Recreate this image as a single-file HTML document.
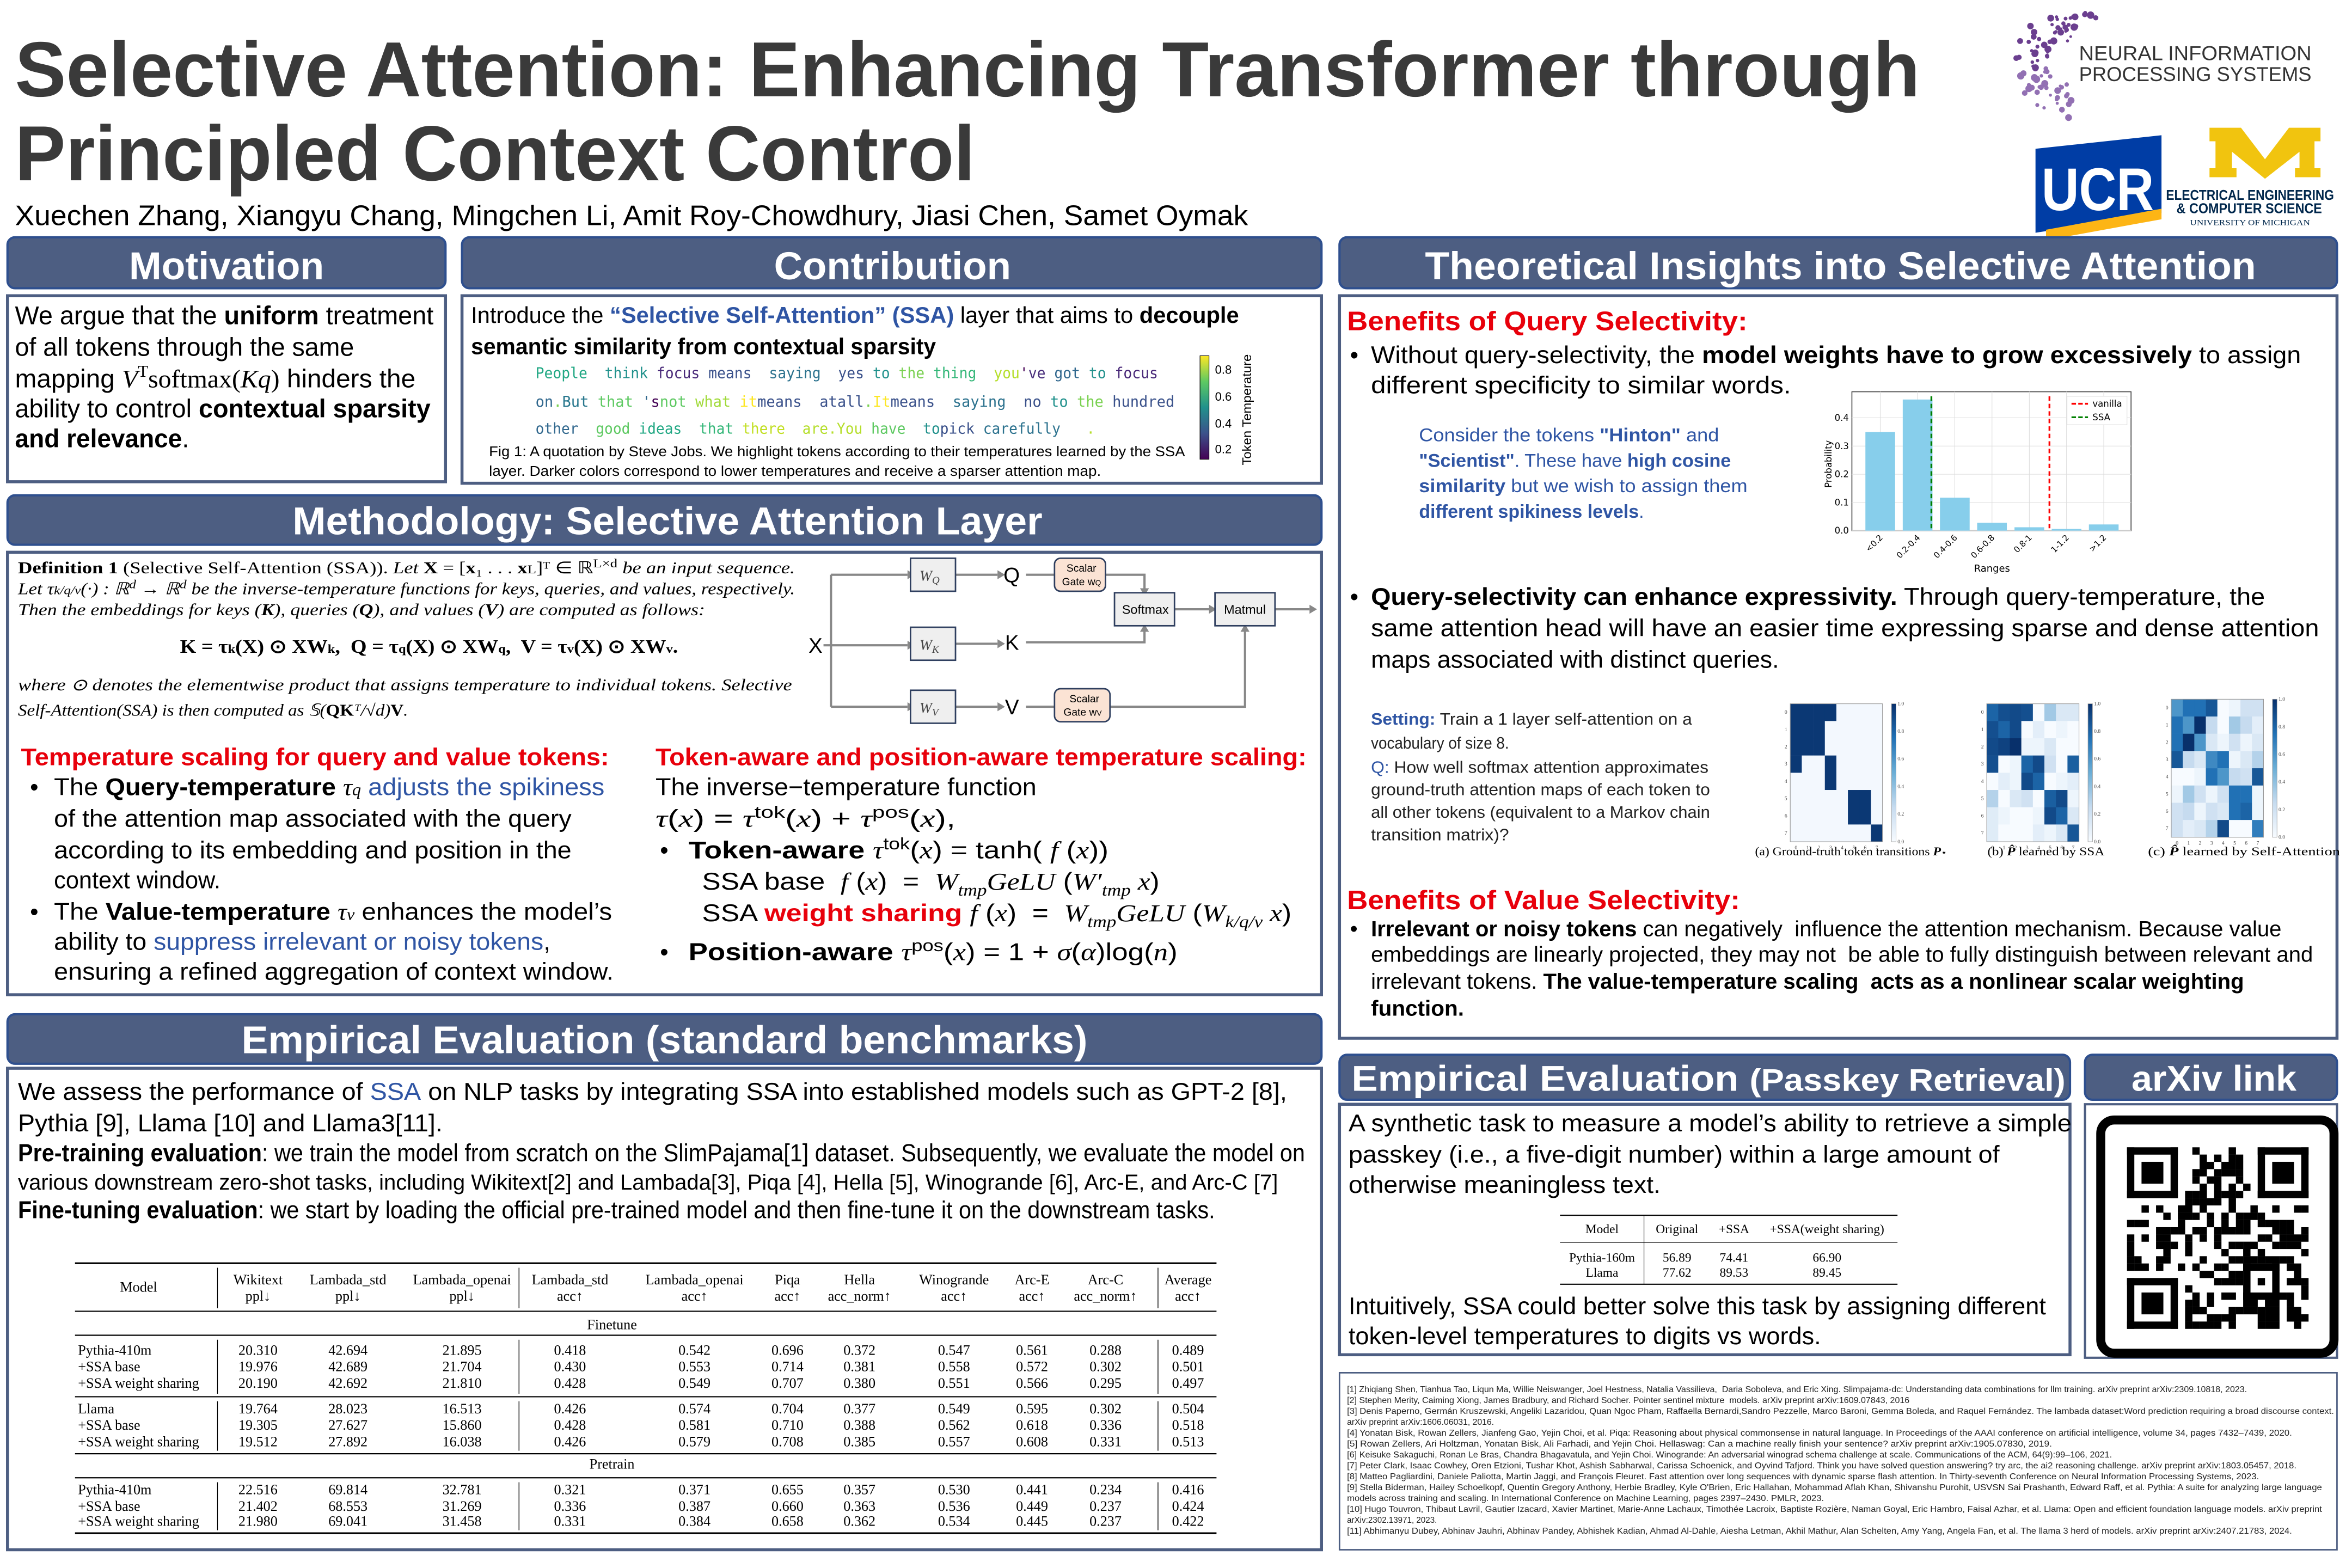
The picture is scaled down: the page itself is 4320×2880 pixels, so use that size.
<!DOCTYPE html>
<html><head><meta charset="utf-8"><style>
html,body{margin:0;padding:0;background:#fff;width:4320px;height:2880px;overflow:hidden}
svg{display:block}
text{white-space:pre}
.s{font-family:"Liberation Sans",sans-serif}
.r{font-family:"Liberation Serif",serif}
.m{font-family:"DejaVu Sans Mono","Liberation Mono",monospace}
.hd{font-family:"Liberation Sans",sans-serif;font-weight:bold;fill:#fff}
</style></head><body>
<svg id="p" width="4320" height="2880" viewBox="0 0 1568 1045" xmlns="http://www.w3.org/2000/svg">
<rect width="1568" height="1045" fill="#fff"/>
<!-- Title -->
<text class="s" x="10" y="64" font-size="52" font-weight="bold" fill="#3a3a3a" textLength="1270" lengthAdjust="spacingAndGlyphs">Selective Attention: Enhancing Transformer through</text>
<text class="s" x="10" y="120" font-size="52" font-weight="bold" fill="#3a3a3a" textLength="640" lengthAdjust="spacingAndGlyphs">Principled Context Control</text>
<text class="s" x="10" y="150" font-size="19" fill="#000" textLength="822" lengthAdjust="spacingAndGlyphs">Xuechen Zhang, Xiangyu Chang, Mingchen Li, Amit Roy-Chowdhury, Jiasi Chen, Samet Oymak</text>
<!-- logos -->
<g id="neurips" fill="#6b4a94"></g>
<text class="s" x="1386" y="40" font-size="13.5" fill="#333" textLength="155" lengthAdjust="spacingAndGlyphs">NEURAL INFORMATION</text>
<text class="s" x="1386" y="54" font-size="13.5" fill="#333" textLength="155" lengthAdjust="spacingAndGlyphs">PROCESSING SYSTEMS</text>
<polygon points="1357,99 1441,90 1441,142 1357,155" fill="#003da5"/>
<polygon points="1364,153 1441,139 1441,146 1364,160" fill="#fdb515"/>
<text class="s" x="1361" y="140" font-size="40" font-weight="bold" fill="#fff" textLength="75" lengthAdjust="spacingAndGlyphs">UCR</text>
<polygon points="1473,85 1494,85 1510,106 1526,85 1547,85 1547,94 1543,94 1543,112 1547,112 1547,118 1530,118 1530,112 1533,112 1533,101 1510,119 1488,101 1488,112 1491,112 1491,118 1473,118 1473,112 1477,112 1477,94 1473,94" fill="#f1c40f"/>
<text class="s" x="1444" y="133" font-size="9.5" font-weight="bold" fill="#00274c" textLength="112" lengthAdjust="spacingAndGlyphs">ELECTRICAL ENGINEERING</text>
<text class="s" x="1451" y="142" font-size="9.5" font-weight="bold" fill="#00274c" textLength="97" lengthAdjust="spacingAndGlyphs">&amp; COMPUTER SCIENCE</text>
<text class="r" x="1460" y="150" font-size="5.5" fill="#00274c" textLength="80" lengthAdjust="spacingAndGlyphs">UNIVERSITY OF MICHIGAN</text>

<!-- Headers -->
<g fill="#4d5e82" stroke="#2e4f8e" stroke-width="1.5">
<rect x="5" y="158" width="292" height="34" rx="5"/>
<rect x="308" y="158" width="573" height="34" rx="5"/>
<rect x="893" y="158" width="665" height="34" rx="5"/>
<rect x="5" y="330" width="876" height="33" rx="5"/>
<rect x="5" y="676" width="876" height="33" rx="5"/>
<rect x="893" y="703" width="487" height="30" rx="5"/>
<rect x="1390" y="703" width="168" height="30" rx="5"/>
</g>
<text class="hd" x="86" y="186" font-size="26" textLength="130" lengthAdjust="spacingAndGlyphs">Motivation</text>
<text class="hd" x="516" y="186" font-size="26" textLength="158" lengthAdjust="spacingAndGlyphs">Contribution</text>
<text class="hd" x="950" y="186" font-size="26" textLength="554" lengthAdjust="spacingAndGlyphs">Theoretical Insights into Selective Attention</text>
<text class="hd" x="195" y="356" font-size="26" textLength="500" lengthAdjust="spacingAndGlyphs">Methodology: Selective Attention Layer</text>
<text class="hd" x="161" y="702" font-size="26" textLength="564" lengthAdjust="spacingAndGlyphs">Empirical Evaluation (standard benchmarks)</text>
<text class="hd" x="901" y="727" font-size="24" textLength="476" lengthAdjust="spacingAndGlyphs">Empirical Evaluation <tspan font-size="21">(Passkey Retrieval)</tspan></text>
<text class="hd" x="1421" y="727" font-size="24" textLength="110" lengthAdjust="spacingAndGlyphs">arXiv link</text>

<!-- Body boxes -->
<g fill="#fff" stroke="#4d5e82" stroke-width="2">
<rect x="5" y="197" width="292" height="124"/>
<rect x="308" y="197" width="573" height="125"/>
<rect x="893" y="197" width="665" height="495"/>
<rect x="5" y="368" width="876" height="295"/>
<rect x="5" y="712" width="876" height="321"/>
<rect x="893" y="736" width="487" height="167"/>
<rect x="1390" y="736" width="168" height="169" stroke-width="1.5"/>
<rect x="893" y="915" width="665" height="118" stroke-width="1"/>
</g>

<!-- Motivation -->
<g class="s" font-size="17" fill="#000">
<text x="10" y="216" textLength="279" lengthAdjust="spacingAndGlyphs">We argue that the <tspan font-weight="bold">uniform</tspan> treatment</text>
<text x="10" y="237" textLength="226" lengthAdjust="spacingAndGlyphs">of all tokens through the same</text>
<text x="10" y="258" textLength="267" lengthAdjust="spacingAndGlyphs">mapping <tspan class="r" font-style="italic">V</tspan><tspan class="r" font-size="11" dy="-7">T</tspan><tspan class="r" dy="7">softmax(</tspan><tspan class="r" font-style="italic">Kq</tspan><tspan class="r">)</tspan> hinders the</text>
<text x="10" y="278" textLength="277" lengthAdjust="spacingAndGlyphs">ability to control <tspan font-weight="bold">contextual sparsity</tspan></text>
<text x="10" y="298" textLength="116" lengthAdjust="spacingAndGlyphs" font-weight="bold">and relevance<tspan font-weight="normal">.</tspan></text>
</g>

<!-- Contribution -->
<g class="s" font-size="15" fill="#000">
<text x="314" y="215" textLength="512" lengthAdjust="spacingAndGlyphs">Introduce the <tspan font-weight="bold" fill="#2f55a4">“Selective Self-Attention” (SSA)</tspan> layer that aims to <tspan font-weight="bold">decouple</tspan></text>
<text x="314" y="236" textLength="310" lengthAdjust="spacingAndGlyphs" font-weight="bold">semantic similarity from contextual sparsity</text>
</g>
<g class="m" font-size="10">
<text xml:space="preserve" x="357" y="252" textLength="415" lengthAdjust="spacingAndGlyphs"><tspan fill="#22a884">People</tspan>  <tspan fill="#21918c">think</tspan> <tspan fill="#482878">focus</tspan> <tspan fill="#3b528b">means</tspan>  <tspan fill="#2c728e">saying</tspan>  <tspan fill="#3b528b">yes</tspan> <tspan fill="#21918c">to</tspan> <tspan fill="#7ad151">the</tspan> <tspan fill="#35b779">thing</tspan>  <tspan fill="#b5de2b">you</tspan><tspan fill="#440154">'</tspan><tspan fill="#472d7b">ve</tspan> <tspan fill="#31688e">got</tspan> <tspan fill="#21918c">to</tspan> <tspan fill="#482878">focus</tspan></text>
<text xml:space="preserve" x="357" y="271" textLength="426" lengthAdjust="spacingAndGlyphs"><tspan fill="#31688e">on</tspan><tspan fill="#7ad151">.</tspan><tspan fill="#2a788e">But</tspan> <tspan fill="#5ec962">that</tspan> <tspan fill="#31688e">'</tspan><tspan fill="#440154">s</tspan><tspan fill="#5ec962">not</tspan> <tspan fill="#a0da39">what</tspan> <tspan fill="#fde725">it</tspan><tspan fill="#3b528b">means</tspan>  <tspan fill="#3b528b">at</tspan><tspan fill="#3b528b">all</tspan><tspan fill="#7ad151">.</tspan><tspan fill="#fde725">It</tspan><tspan fill="#3b528b">means</tspan>  <tspan fill="#2c728e">saying</tspan>  <tspan fill="#3b528b">no</tspan> <tspan fill="#21918c">to</tspan> <tspan fill="#7ad151">the</tspan> <tspan fill="#3b528b">hundred</tspan></text>
<text xml:space="preserve" x="357" y="289" textLength="373" lengthAdjust="spacingAndGlyphs"><tspan fill="#31688e">other</tspan>  <tspan fill="#5ec962">good</tspan> <tspan fill="#22a884">ideas</tspan>  <tspan fill="#35b779">that</tspan> <tspan fill="#c2df23">there</tspan>  <tspan fill="#b5de2b">are</tspan><tspan fill="#b5de2b">.</tspan><tspan fill="#b5de2b">You</tspan> <tspan fill="#5ec962">have</tspan>  <tspan fill="#21918c">to</tspan><tspan fill="#3b528b">pick</tspan> <tspan fill="#2c728e">carefully</tspan>   <tspan fill="#b5de2b">.</tspan></text>
</g>
<g class="s" font-size="9.5" fill="#000">
<text x="326" y="304" textLength="464" lengthAdjust="spacingAndGlyphs">Fig 1: A quotation by Steve Jobs. We highlight tokens according to their temperatures learned by the SSA</text>
<text x="326" y="317" textLength="408" lengthAdjust="spacingAndGlyphs">layer. Darker colors correspond to lower temperatures and receive a sparser attention map.</text>
</g>
<defs><linearGradient id="vir" x1="0" y1="1" x2="0" y2="0">
<stop offset="0" stop-color="#440154"/><stop offset="0.25" stop-color="#3b528b"/><stop offset="0.5" stop-color="#21918c"/><stop offset="0.75" stop-color="#5ec962"/><stop offset="1" stop-color="#fde725"/></linearGradient></defs>
<rect x="800" y="237" width="6" height="69" fill="url(#vir)" stroke="#000" stroke-width="0.4"/>
<g class="s" font-size="8" fill="#000">
<text x="810" y="249">0.8</text><text x="810" y="267">0.6</text><text x="810" y="285">0.4</text><text x="810" y="302">0.2</text>
<text transform="translate(834,310) rotate(-90)" font-size="8.5" textLength="74" lengthAdjust="spacingAndGlyphs">Token Temperature</text>
</g>

<!-- Methodology -->
<g class="r" font-size="11" fill="#000">
<text x="12" y="382" textLength="518" lengthAdjust="spacingAndGlyphs"><tspan font-weight="bold">Definition 1</tspan> (Selective Self-Attention (SSA)). <tspan font-style="italic">Let </tspan><tspan font-weight="bold">X</tspan> = [<tspan font-weight="bold">x</tspan>₁ . . . <tspan font-weight="bold">x</tspan><tspan font-size="8">L</tspan>]ᵀ ∈ ℝ<tspan font-size="8" dy="-4">L×d</tspan><tspan dy="4" font-style="italic"> be an input sequence.</tspan></text>
<text x="12" y="396" textLength="518" lengthAdjust="spacingAndGlyphs" font-style="italic">Let τ<tspan font-size="8">k/q/v</tspan>(·) : ℝ<tspan font-size="8" dy="-4">d</tspan><tspan dy="4"> → ℝ</tspan><tspan font-size="8" dy="-4">d</tspan><tspan dy="4"> be the inverse-temperature functions for keys, queries, and values, respectively.</tspan></text>
<text x="12" y="410" textLength="458" lengthAdjust="spacingAndGlyphs" font-style="italic">Then the embeddings for keys (<tspan font-weight="bold">K</tspan>), queries (<tspan font-weight="bold">Q</tspan>), and values (<tspan font-weight="bold">V</tspan>) are computed as follows:</text>
<text x="120" y="435" font-size="12.5" font-weight="bold" textLength="332" lengthAdjust="spacingAndGlyphs">K = τ<tspan font-size="8">k</tspan>(X) ⊙ XW<tspan font-size="8">k</tspan>,  Q = τ<tspan font-size="8">q</tspan>(X) ⊙ XW<tspan font-size="8">q</tspan>,  V = τ<tspan font-size="8">v</tspan>(X) ⊙ XW<tspan font-size="8">v</tspan>.</text>
<text x="12" y="460" textLength="516" lengthAdjust="spacingAndGlyphs" font-style="italic">where ⊙ denotes the elementwise product that assigns temperature to individual tokens. Selective</text>
<text x="12" y="477" textLength="260" lengthAdjust="spacingAndGlyphs" font-style="italic">Self-Attention(SSA) is then computed as 𝕊(<tspan font-weight="bold" font-style="normal">QK</tspan>ᵀ/√d)<tspan font-weight="bold" font-style="normal">V</tspan>.</text>
</g>
<!-- diagram -->
<g stroke="#888" stroke-width="1.5" fill="none">
<path d="M549,430 H605 M554,383 V471 M554,383 H605 M554,471 H605"/>
<path d="M637,383 H665 M637,429 H665 M637,471 H665"/>
<path d="M684,383 H703 M737,383 H763 V395"/>
<path d="M684,428 H763 V418"/>
<path d="M684,471 H703 M740,471 H830 V418"/>
<path d="M783,406 H808 M850,406 H873"/>
</g>
<g fill="#888">
<polygon points="605,380 610,383 605,386"/><polygon points="605,427 610,430 605,433"/><polygon points="605,468 610,471 605,474"/>
<polygon points="665,380 670,383 665,386"/><polygon points="665,426 670,429 665,432"/><polygon points="665,468 670,471 665,474"/>
<polygon points="760,392 763,397 766,392"/><polygon points="760,421 763,416 766,421"/><polygon points="827,421 830,416 833,421"/>
<polygon points="806,403 811,406 806,409"/><polygon points="873,403 878,406 873,409"/>
</g>
<g stroke="#2f3f5f" stroke-width="1" fill="#efefef">
<rect x="607" y="372" width="30" height="22"/><rect x="607" y="418" width="30" height="22"/><rect x="607" y="460" width="30" height="22"/>
<rect x="743" y="395" width="40" height="22"/><rect x="810" y="395" width="40" height="22"/>
</g>
<g stroke="#2f3f5f" stroke-width="1" fill="#fbe3d4">
<rect x="703" y="372" width="34" height="22" rx="4"/><rect x="703" y="459" width="37" height="22" rx="4"/>
</g>
<g class="r" font-style="italic" font-size="10" fill="#444">
<text x="613" y="387">W<tspan font-size="7" dy="2">Q</tspan></text>
<text x="613" y="433">W<tspan font-size="7" dy="2">K</tspan></text>
<text x="613" y="475">W<tspan font-size="7" dy="2">V</tspan></text>
</g>
<g class="s" fill="#000">
<text x="539" y="435" font-size="14">X</text>
<text x="669" y="388" font-size="14">Q</text><text x="670" y="433" font-size="14">K</text><text x="670" y="476" font-size="14">V</text>
<text x="711" y="381" font-size="7">Scalar</text><text x="708" y="390" font-size="7">Gate w<tspan font-size="5">Q</tspan></text>
<text x="713" y="468" font-size="7">Scalar</text><text x="709" y="477" font-size="7">Gate w<tspan font-size="5">V</tspan></text>
<text x="748" y="409" font-size="8.5">Softmax</text><text x="816" y="409" font-size="8.5">Matmul</text>
</g>
<!-- method bullets -->
<g class="s" font-size="16" fill="#000">
<text x="14" y="510" font-weight="bold" fill="#e8000b" textLength="392" lengthAdjust="spacingAndGlyphs">Temperature scaling for query and value tokens:</text>
<text x="20" y="530">•</text><text x="36" y="530" textLength="367" lengthAdjust="spacingAndGlyphs">The <tspan font-weight="bold">Query-temperature</tspan> <tspan class="r" font-style="italic">τ<tspan font-size="11">q</tspan></tspan> <tspan fill="#2f55a4">adjusts the spikiness</tspan></text>
<text x="36" y="551" textLength="345" lengthAdjust="spacingAndGlyphs">of the attention map associated with the query</text>
<text x="36" y="572" textLength="345" lengthAdjust="spacingAndGlyphs">according to its embedding and position in the</text>
<text x="36" y="592" textLength="111" lengthAdjust="spacingAndGlyphs">context window.</text>
<text x="20" y="613">•</text><text x="36" y="613" textLength="372" lengthAdjust="spacingAndGlyphs">The <tspan font-weight="bold">Value-temperature</tspan> <tspan class="r" font-style="italic">τ<tspan font-size="11">v</tspan></tspan> enhances the model’s</text>
<text x="36" y="633" textLength="331" lengthAdjust="spacingAndGlyphs">ability to <tspan fill="#2f55a4">suppress irrelevant or noisy tokens</tspan>,</text>
<text x="36" y="653" textLength="373" lengthAdjust="spacingAndGlyphs">ensuring a refined aggregation of context window.</text>

<text x="437" y="510" font-weight="bold" fill="#e8000b" textLength="434" lengthAdjust="spacingAndGlyphs">Token-aware and position-aware temperature scaling:</text>
<text x="437" y="530" textLength="254" lengthAdjust="spacingAndGlyphs">The inverse−temperature function</text>
<text x="437" y="551" textLength="200" lengthAdjust="spacingAndGlyphs"><tspan class="r" font-style="italic">τ</tspan>(<tspan class="r" font-style="italic">x</tspan>) = <tspan class="r" font-style="italic">τ</tspan><tspan font-size="11" dy="-6">tok</tspan><tspan dy="6">(</tspan><tspan class="r" font-style="italic">x</tspan>) + <tspan class="r" font-style="italic">τ</tspan><tspan font-size="11" dy="-6">pos</tspan><tspan dy="6">(</tspan><tspan class="r" font-style="italic">x</tspan>),</text>
<text x="440" y="572">•</text><text x="459" y="572" textLength="280" lengthAdjust="spacingAndGlyphs"><tspan font-weight="bold">Token-aware</tspan> <tspan class="r" font-style="italic">τ</tspan><tspan font-size="11" dy="-6">tok</tspan><tspan dy="6">(</tspan><tspan class="r" font-style="italic">x</tspan>) = tanh( <tspan class="r" font-style="italic">f</tspan> (<tspan class="r" font-style="italic">x</tspan>))</text>
<text x="468" y="593" textLength="305" lengthAdjust="spacingAndGlyphs">SSA base  <tspan class="r" font-style="italic">f</tspan> (<tspan class="r" font-style="italic">x</tspan>)  =  <tspan class="r" font-style="italic">W</tspan><tspan font-size="11" dy="4" class="r" font-style="italic">tmp</tspan><tspan dy="-4" class="r" font-style="italic">GeLU</tspan> (<tspan class="r" font-style="italic">W′</tspan><tspan font-size="11" dy="4" class="r" font-style="italic">tmp</tspan><tspan dy="-4" class="r" font-style="italic"> x</tspan>)</text>
<text x="468" y="614" textLength="393" lengthAdjust="spacingAndGlyphs">SSA <tspan font-weight="bold" fill="#e8000b">weight sharing</tspan> <tspan class="r" font-style="italic">f</tspan> (<tspan class="r" font-style="italic">x</tspan>)  =  <tspan class="r" font-style="italic">W</tspan><tspan font-size="11" dy="4" class="r" font-style="italic">tmp</tspan><tspan dy="-4" class="r" font-style="italic">GeLU</tspan> (<tspan class="r" font-style="italic">W</tspan><tspan font-size="11" dy="4" class="r" font-style="italic">k/q/v</tspan><tspan dy="-4" class="r" font-style="italic"> x</tspan>)</text>
<text x="440" y="640">•</text><text x="459" y="640" textLength="326" lengthAdjust="spacingAndGlyphs"><tspan font-weight="bold">Position-aware</tspan> <tspan class="r" font-style="italic">τ</tspan><tspan font-size="11" dy="-6">pos</tspan><tspan dy="6">(</tspan><tspan class="r" font-style="italic">x</tspan>) = 1 + <tspan class="r" font-style="italic">σ</tspan>(<tspan class="r" font-style="italic">α</tspan>)log(<tspan class="r" font-style="italic">n</tspan>)</text>
</g>

<!-- Theory -->
<g class="s" fill="#000">
<text x="898" y="220" font-size="18" font-weight="bold" fill="#e8000b" textLength="267" lengthAdjust="spacingAndGlyphs">Benefits of Query Selectivity:</text>
<text x="900" y="242" font-size="16">•</text>
<text x="914" y="242" font-size="16" textLength="620" lengthAdjust="spacingAndGlyphs">Without query-selectivity, the <tspan font-weight="bold">model weights have to grow excessively</tspan> to assign</text>
<text x="914" y="262" font-size="16" textLength="280" lengthAdjust="spacingAndGlyphs">different specificity to similar words.</text>
<g font-size="12.5" fill="#2f55a4">
<text x="946" y="294" textLength="200" lengthAdjust="spacingAndGlyphs">Consider the tokens <tspan font-weight="bold">"Hinton"</tspan> and</text>
<text x="946" y="311" textLength="208" lengthAdjust="spacingAndGlyphs"><tspan font-weight="bold">"Scientist"</tspan>. These have <tspan font-weight="bold">high cosine</tspan></text>
<text x="946" y="328" textLength="219" lengthAdjust="spacingAndGlyphs"><tspan font-weight="bold">similarity</tspan> but we wish to assign them</text>
<text x="946" y="345" textLength="150" lengthAdjust="spacingAndGlyphs" font-weight="bold">different spikiness levels<tspan font-weight="normal">.</tspan></text>
</g>
<text x="900" y="403" font-size="16">•</text>
<text x="914" y="403" font-size="16" textLength="596" lengthAdjust="spacingAndGlyphs"><tspan font-weight="bold">Query-selectivity can enhance expressivity.</tspan> Through query-temperature, the</text>
<text x="914" y="424" font-size="16" textLength="632" lengthAdjust="spacingAndGlyphs">same attention head will have an easier time expressing sparse and dense attention</text>
<text x="914" y="445" font-size="16" textLength="272" lengthAdjust="spacingAndGlyphs">maps associated with distinct queries.</text>
<g font-size="11" fill="#222">
<text x="914" y="483" textLength="214" lengthAdjust="spacingAndGlyphs"><tspan font-weight="bold" fill="#2f55a4">Setting:</tspan> Train a 1 layer self-attention on a</text>
<text x="914" y="499" textLength="92" lengthAdjust="spacingAndGlyphs">vocabulary of size 8.</text>
<text x="914" y="515" textLength="225" lengthAdjust="spacingAndGlyphs"><tspan fill="#2f55a4">Q:</tspan> How well softmax attention approximates</text>
<text x="914" y="530" textLength="226" lengthAdjust="spacingAndGlyphs">ground-truth attention maps of each token to</text>
<text x="914" y="545" textLength="226" lengthAdjust="spacingAndGlyphs">all other tokens (equivalent to a Markov chain</text>
<text x="914" y="560" textLength="92" lengthAdjust="spacingAndGlyphs">transition matrix)?</text>
</g>
<text x="898" y="606" font-size="18" font-weight="bold" fill="#e8000b" textLength="262" lengthAdjust="spacingAndGlyphs">Benefits of Value Selectivity:</text>
<g font-size="14.5">
<text x="900" y="624">•</text>
<text x="914" y="624" textLength="607" lengthAdjust="spacingAndGlyphs"><tspan font-weight="bold">Irrelevant or noisy tokens</tspan> can negatively  influence the attention mechanism. Because value</text>
<text x="914" y="641" textLength="628" lengthAdjust="spacingAndGlyphs">embeddings are linearly projected, they may not  be able to fully distinguish between relevant and</text>
<text x="914" y="659" textLength="582" lengthAdjust="spacingAndGlyphs">irrelevant tokens. <tspan font-weight="bold">The value-temperature scaling  acts as a nonlinear scalar weighting</tspan></text>
<text x="914" y="677" textLength="62" lengthAdjust="spacingAndGlyphs" font-weight="bold">function.</text>
</g>
</g>
<!-- bar chart -->
<g id="bars"></g>
<!-- heatmaps -->
<g id="heat"></g>
<g class="r" font-size="8" fill="#000">
<text x="1170" y="570" textLength="128" lengthAdjust="spacingAndGlyphs">(a) Ground-truth token transitions <tspan font-weight="bold" font-style="italic">P</tspan><tspan font-size="6">⋆</tspan></text>
<text x="1325" y="570" textLength="78" lengthAdjust="spacingAndGlyphs">(b) <tspan font-weight="bold" font-style="italic">P̂</tspan> learned by SSA</text>
<text x="1432" y="570" textLength="128" lengthAdjust="spacingAndGlyphs">(c) <tspan font-weight="bold" font-style="italic">P̂</tspan> learned by Self-Attention</text>
</g>

<!-- Empirical std -->
<g class="s" fill="#000">
<text x="12" y="733" font-size="16" textLength="846" lengthAdjust="spacingAndGlyphs">We assess the performance of <tspan fill="#2f55a4">SSA</tspan> on NLP tasks by integrating SSA into established models such as GPT-2 [8],</text>
<text x="12" y="754" font-size="16" textLength="283" lengthAdjust="spacingAndGlyphs">Pythia [9], Llama [10] and Llama3[11].</text>
<text x="12" y="774" font-size="16.5" textLength="858" lengthAdjust="spacingAndGlyphs"><tspan font-weight="bold">Pre-training evaluation</tspan>: we train the model from scratch on the SlimPajama[1] dataset. Subsequently, we evaluate the model on</text>
<text x="12" y="793" font-size="14.5" textLength="840" lengthAdjust="spacingAndGlyphs">various downstream zero-shot tasks, including Wikitext[2] and Lambada[3], Piqa [4], Hella [5], Winogrande [6], Arc-E, and Arc-C [7]</text>
<text x="12" y="812" font-size="16" textLength="798" lengthAdjust="spacingAndGlyphs"><tspan font-weight="bold">Fine-tuning evaluation</tspan>: we start by loading the official pre-trained model and then fine-tune it on the downstream tasks.</text>
</g>
<g id="tbl" class="r" font-size="9.5" fill="#000"></g>

<!-- Passkey -->
<g class="s" font-size="16" fill="#000">
<text x="899" y="754" textLength="482" lengthAdjust="spacingAndGlyphs">A synthetic task to measure a model’s ability to retrieve a simple</text>
<text x="899" y="775" textLength="434" lengthAdjust="spacingAndGlyphs">passkey (i.e., a five-digit number) within a large amount of</text>
<text x="899" y="795" textLength="208" lengthAdjust="spacingAndGlyphs">otherwise meaningless text.</text>
<text x="899" y="876" textLength="465" lengthAdjust="spacingAndGlyphs">Intuitively, SSA could better solve this task by assigning different</text>
<text x="899" y="896" textLength="315" lengthAdjust="spacingAndGlyphs">token-level temperatures to digits vs words.</text>
</g>
<g stroke="#000"><line x1="1040" y1="810" x2="1265" y2="810" stroke-width="0.8"/><line x1="1040" y1="828" x2="1265" y2="828" stroke-width="0.5"/><line x1="1040" y1="856" x2="1265" y2="856" stroke-width="0.8"/><line x1="1096" y1="810" x2="1096" y2="856" stroke-width="0.4"/></g>
<g class="r" font-size="8.5" fill="#000" text-anchor="middle">
<text x="1068" y="822">Model</text><text x="1118" y="822">Original</text><text x="1156" y="822">+SSA</text><text x="1218" y="822">+SSA(weight sharing)</text>
<text x="1068" y="841">Pythia-160m</text><text x="1118" y="841">56.89</text><text x="1156" y="841">74.41</text><text x="1218" y="841">66.90</text>
<text x="1068" y="851">Llama</text><text x="1118" y="851">77.62</text><text x="1156" y="851">89.53</text><text x="1218" y="851">89.45</text>
</g>

<!-- QR -->
<rect x="1400.5" y="746.5" width="155.5" height="155.5" rx="9" fill="#fff" stroke="#000" stroke-width="6"/>
<g id="qr" fill="#000"></g>

<!-- References -->
<g id="refs" class="s" font-size="5.6" fill="#222"></g>
</svg>
<script>
var NS="http://www.w3.org/2000/svg";
function el(p,t,a,txt){var e=document.createElementNS(NS,t);for(var k in a)e.setAttribute(k,a[k]);if(txt!==undefined)e.textContent=txt;p.appendChild(e);return e;}
// neurips dots (C-shaped arc)
(function(){var g=document.getElementById('neurips');var s=7;function r(){s=(s*9301+49297)%233280;return s/233280;}
for(var i=0;i<95;i++){var t=-0.7+4.0*r();var rad=14+24*r();var cx=1378-rad*Math.sin(t)*0.9;var cy=42-rad*Math.cos(t);
if(cx>1384&&cy>16&&cy<68)continue;el(g,'circle',{cx:cx,cy:cy,r:0.9+1.6*r(),fill:(cy>45?'#9270b3':'#6b3f8f')});}})();
// bar chart
(function(){var g=document.getElementById('bars');var L=1234.6,R=1420.7,T=261,B=353.6,u=188;
el(g,'rect',{x:L,y:T,width:R-L,height:B-T,fill:'#fff',stroke:'#444','stroke-width':0.6});
var cs=[1253.5,1278.4,1303.2,1328.0,1352.9,1377.7,1402.5];
for(var i=0;i<5;i++){var y=B-i*18.8;el(g,'line',{x1:L,x2:R,y1:y,y2:y,stroke:'#ddd','stroke-width':0.4});el(g,'text',{x:L-2,y:y+2,'font-size':6,'text-anchor':'end','font-family':'DejaVu Sans,sans-serif'},(i/10).toFixed(1));}
cs.forEach(function(c){el(g,'line',{x1:c,x2:c,y1:T,y2:B,stroke:'#ddd','stroke-width':0.4});});
var h=[.35,.465,.117,.028,.012,.006,.022];var lab=['<0.2','0.2-0.4','0.4-0.6','0.6-0.8','0.8-1','1-1.2','>1.2'];
cs.forEach(function(c,i){el(g,'rect',{x:c-9.9,y:B-h[i]*u,width:19.8,height:h[i]*u,fill:'#87ceeb'});
el(g,'text',{transform:'translate('+(c+2)+','+(B+5)+') rotate(-45)','font-size':5.5,'text-anchor':'end','font-family':'DejaVu Sans,sans-serif'},lab[i]);});
el(g,'line',{x1:1287.6,x2:1287.6,y1:264,y2:B,stroke:'#008000','stroke-width':1.2,'stroke-dasharray':'3,2'});
el(g,'line',{x1:1366.3,x2:1366.3,y1:264,y2:B,stroke:'#ff0000','stroke-width':1.2,'stroke-dasharray':'3,2'});
el(g,'rect',{x:1378,y:264,width:40,height:19,fill:'#fff',stroke:'#ddd','stroke-width':0.4});
el(g,'line',{x1:1381,x2:1392,y1:269,y2:269,stroke:'#f00','stroke-width':1.2,'stroke-dasharray':'3,1.5'});
el(g,'line',{x1:1381,x2:1392,y1:278,y2:278,stroke:'#008000','stroke-width':1.2,'stroke-dasharray':'3,1.5'});
el(g,'text',{x:1395,y:271,'font-size':6,'font-family':'DejaVu Sans,sans-serif'},'vanilla');
el(g,'text',{x:1395,y:280,'font-size':6,'font-family':'DejaVu Sans,sans-serif'},'SSA');
el(g,'text',{x:1328,y:381,'font-size':6.5,'text-anchor':'middle','font-family':'DejaVu Sans,sans-serif'},'Ranges');
el(g,'text',{transform:'translate(1221,325) rotate(-90)','font-size':6,'font-family':'DejaVu Sans,sans-serif'},'Probability');})();
// heatmaps
(function(){var g=document.getElementById('heat');
function blues(v){var st=[[0,[247,251,255]],[.25,[198,219,239]],[.5,[107,174,214]],[.75,[33,113,181]],[1,[8,48,107]]];
for(var i=0;i<st.length-1;i++){if(v<=st[i+1][0]){var t=(v-st[i][0])/(st[i+1][0]-st[i][0]);var a=st[i][1],b=st[i+1][1];return 'rgb('+a.map(function(x,j){return Math.round(x+(b[j]-x)*t)}).join(',')+')';}}return 'rgb(8,48,107)';}
var GT=[[1,1,1,1,0,0,0,0],[1,1,1,0,0,0,0,0],[1,1,1,0,0,0,0,0],[1,0,0,1,0,0,0,0],[0,0,0,1,0,0,0,0],[0,0,0,0,0,1,1,0],[0,0,0,0,0,1,1,0],[0,0,0,0,0,0,0,1]];
GT=GT.map(function(r){return r.map(function(v){return v?.97:.02})});
var SSA=[[.8,.88,.9,.88,0,.35,.15,.15],[.88,.8,.9,0,.1,0,.05,0],[.9,.93,1,.05,.05,.15,0,0],[.88,0,.05,.8,.9,.2,0,.82],[0,.1,.05,.9,.8,0,.05,.1],[.3,0,.15,.2,0,.82,.9,.05],[.12,.05,0,0,.05,.9,.8,.15],[.12,0,0,0,.1,.05,.15,.85]];
var SA=[[.6,.75,.75,.85,0,.05,.2,.2],[.75,.6,1,.25,0,.35,.25,.1],[.75,1,.6,.15,.05,.2,.05,.15],[.85,.25,.15,.65,.75,.05,.15,.3],[0,0,.05,.75,.6,.25,.2,.85],[.05,.35,.2,.05,.2,.75,.75,.05],[.2,.25,.05,.2,.15,.75,.8,.05],[.2,.1,.15,.3,.9,0,0,.7]];
function hm(M,x,y,w,h){var cw=w/8,ch=h/8;for(var r=0;r<8;r++)for(var c=0;c<8;c++)el(g,'rect',{x:x+c*cw,y:y+r*ch,width:cw+0.1,height:ch+0.1,fill:blues(M[r][c])});
el(g,'rect',{x:x,y:y,width:w,height:h,fill:'none',stroke:'#999','stroke-width':0.4});
for(var i=0;i<8;i++){el(g,'text',{x:x+cw*(i+.5),y:y+h+5,'font-size':3.5,'text-anchor':'middle','fill':'#444'},i);el(g,'text',{x:x-2,y:y+ch*(i+.5)+1,'font-size':3.5,'text-anchor':'end','fill':'#444'},i);}
var d=document.createElementNS(NS,'linearGradient');var id='bg'+Math.round(x);d.setAttribute('id',id);d.setAttribute('x1',0);d.setAttribute('y1',1);d.setAttribute('x2',0);d.setAttribute('y2',0);
[0,.25,.5,.75,1].forEach(function(o){el(d,'stop',{offset:o,'stop-color':blues(o)})});g.appendChild(d);
el(g,'rect',{x:x+w+6,y:y,width:3,height:h,fill:'url(#'+id+')',stroke:'#999','stroke-width':0.3});
for(var k=0;k<=5;k++)el(g,'text',{x:x+w+10,y:y+h-k*h/5+1,'font-size':3.5,'fill':'#444'},(k/5).toFixed(1));}
hm(GT,1193.5,469,61.5,92);hm(SSA,1324.5,469,61.5,92);hm(SA,1447.5,466,61.5,92);})();
// table
(function(){var g=document.getElementById('tbl');
function ln(x1,y1,x2,y2,w){el(g,'line',{x1:x1,y1:y1,x2:x2,y2:y2,stroke:'#000','stroke-width':w});}
ln(50,842,811,842,1.2);ln(50,874,811,874,0.8);ln(50,890,811,890,0.8);ln(50,969,811,969,0.8);ln(50,985,811,985,0.8);ln(50,1022,811,1022,1.2);ln(50,931,811,931,0.8);
[145,346,772].forEach(function(x){ln(x,845,x,872,0.5);ln(x,893,x,929,0.5);ln(x,934,x,967,0.5);ln(x,988,x,1020,0.5);});
var cx=[172,232,308,380,463,525,573,636,688,737,792];
var h1=['Wikitext','Lambada_std','Lambada_openai','Lambada_std','Lambada_openai','Piqa','Hella','Winogrande','Arc-E','Arc-C','Average'];
var h2=['ppl↓','ppl↓','ppl↓','acc↑','acc↑','acc↑','acc_norm↑','acc↑','acc↑','acc_norm↑','acc↑'];
el(g,'text',{x:80,y:861},'Model');
cx.forEach(function(c,i){el(g,'text',{x:c,y:856,'text-anchor':'middle'},h1[i]);el(g,'text',{x:c,y:867,'text-anchor':'middle'},h2[i]);});
el(g,'text',{x:408,y:886,'text-anchor':'middle'},'Finetune');el(g,'text',{x:408,y:979,'text-anchor':'middle'},'Pretrain');
var rows=[[903,'Pythia-410m','20.310 42.694 21.895 0.418 0.542 0.696 0.372 0.547 0.561 0.288 0.489'],[914,'+SSA base','19.976 42.689 21.704 0.430 0.553 0.714 0.381 0.558 0.572 0.302 0.501'],[925,'+SSA weight sharing','20.190 42.692 21.810 0.428 0.549 0.707 0.380 0.551 0.566 0.295 0.497'],
[942,'Llama','19.764 28.023 16.513 0.426 0.574 0.704 0.377 0.549 0.595 0.302 0.504'],[953,'+SSA base','19.305 27.627 15.860 0.428 0.581 0.710 0.388 0.562 0.618 0.336 0.518'],[964,'+SSA weight sharing','19.512 27.892 16.038 0.426 0.579 0.708 0.385 0.557 0.608 0.331 0.513'],
[996,'Pythia-410m','22.516 69.814 32.781 0.321 0.371 0.655 0.357 0.530 0.441 0.234 0.416'],[1007,'+SSA base','21.402 68.553 31.269 0.336 0.387 0.660 0.363 0.536 0.449 0.237 0.424'],[1017,'+SSA weight sharing','21.980 69.041 31.458 0.331 0.384 0.658 0.362 0.534 0.445 0.237 0.422']];
rows.forEach(function(r){el(g,'text',{x:52,y:r[0]},r[1]);r[2].split(' ').forEach(function(v,i){el(g,'text',{x:cx[i],y:r[0],'text-anchor':'middle'},v);});});})();
// QR
(function(){var g=document.getElementById('qr');var x0=1418,y0=764.7,m=4.84,N=25;
function sq(c,r,w,h){el(g,'rect',{x:x0+c*m,y:y0+r*m,width:w*m+0.05,height:h*m+0.05});}
function finder(c,r){sq(c,r,7,1);sq(c,r+6,7,1);sq(c,r,1,7);sq(c+6,r,1,7);sq(c+2,r+2,3,3);}
finder(0,0);finder(18,0);finder(0,18);
sq(16,16,5,1);sq(16,20,5,1);sq(16,16,1,5);sq(20,16,1,5);sq(18,18,1,1);
var s=12345;function rnd(){s=(s*1103515245+12345)%2147483648;return s/2147483648;}
for(var r=0;r<N;r++)for(var c=0;c<N;c++){if((r<8&&c<8)||(r<8&&c>16)||(r>16&&c<8)||(r>15&&r<21&&c>15&&c<21))continue;if(rnd()<0.5)sq(c,r,1,1);}})();
// refs
(function(){var g=document.getElementById('refs');var L=[
['[1] Zhiqiang Shen, Tianhua Tao, Liqun Ma, Willie Neiswanger, Joel Hestness, Natalia Vassilieva,  Daria Soboleva, and Eric Xing. Slimpajama-dc: Understanding data combinations for llm training. arXiv preprint arXiv:2309.10818, 2023.',600],
['[2] Stephen Merity, Caiming Xiong, James Bradbury, and Richard Socher. Pointer sentinel mixture  models. arXiv preprint arXiv:1609.07843, 2016',375],
['[3] Denis Paperno, Germán Kruszewski, Angeliki Lazaridou, Quan Ngoc Pham, Raffaella Bernardi,Sandro Pezzelle, Marco Baroni, Gemma Boleda, and Raquel Fernández. The lambada dataset:Word prediction requiring a broad discourse context.',658],
['arXiv preprint arXiv:1606.06031, 2016.',98],
['[4] Yonatan Bisk, Rowan Zellers, Jianfeng Gao, Yejin Choi, et al. Piqa: Reasoning about physical commonsense in natural language. In Proceedings of the AAAI conference on artificial intelligence, volume 34, pages 7432–7439, 2020.',630],
['[5] Rowan Zellers, Ari Holtzman, Yonatan Bisk, Ali Farhadi, and Yejin Choi. Hellaswag: Can a machine really finish your sentence? arXiv preprint arXiv:1905.07830, 2019.',470],
['[6] Keisuke Sakaguchi, Ronan Le Bras, Chandra Bhagavatula, and Yejin Choi. Winogrande: An adversarial winograd schema challenge at scale. Communications of the ACM, 64(9):99–106, 2021.',510],
['[7] Peter Clark, Isaac Cowhey, Oren Etzioni, Tushar Khot, Ashish Sabharwal, Carissa Schoenick, and Oyvind Tafjord. Think you have solved question answering? try arc, the ai2 reasoning challenge. arXiv preprint arXiv:1803.05457, 2018.',633],
['[8] Matteo Pagliardini, Daniele Paliotta, Martin Jaggi, and François Fleuret. Fast attention over long sequences with dynamic sparse flash attention. In Thirty-seventh Conference on Neural Information Processing Systems, 2023.',608],
['[9] Stella Biderman, Hailey Schoelkopf, Quentin Gregory Anthony, Herbie Bradley, Kyle O\'Brien, Eric Hallahan, Mohammad Aflah Khan, Shivanshu Purohit, USVSN Sai Prashanth, Edward Raff, et al. Pythia: A suite for analyzing large language',650],
['models across training and scaling. In International Conference on Machine Learning, pages 2397–2430. PMLR, 2023.',318],
['[10] Hugo Touvron, Thibaut Lavril, Gautier Izacard, Xavier Martinet, Marie-Anne Lachaux, Timothée Lacroix, Baptiste Rozière, Naman Goyal, Eric Hambro, Faisal Azhar, et al. Llama: Open and efficient foundation language models. arXiv preprint',650],
['arXiv:2302.13971, 2023.',60],
['[11] Abhimanyu Dubey, Abhinav Jauhri, Abhinav Pandey, Abhishek Kadian, Ahmad Al-Dahle, Aiesha Letman, Akhil Mathur, Alan Schelten, Amy Yang, Angela Fan, et al. The llama 3 herd of models. arXiv preprint arXiv:2407.21783, 2024.',630]];
L.forEach(function(l,i){el(g,'text',{x:898,y:928+i*7.25,textLength:l[1],lengthAdjust:'spacingAndGlyphs'},l[0]);});})();
</script>
</body></html>
